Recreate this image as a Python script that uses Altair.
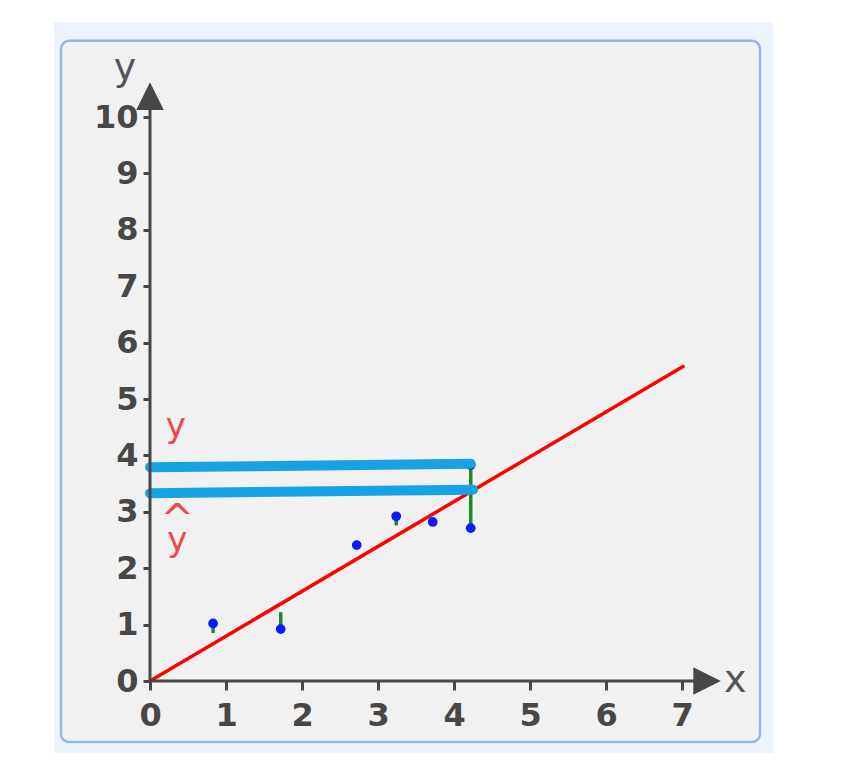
import altair as alt
import pandas as pd

# ---- data ----
point_x = [0.83, 1.72, 2.72, 3.24, 3.72, 4.22, 4.22]
point_y = [1.02, 0.92, 2.41, 2.92, 2.82, 2.71, 3.83]

res_x = [0.83, 1.72, 3.24, 4.22]
res_y1 = [1.02, 0.92, 2.92, 2.71]
res_y2 = [0.85, 1.22, 2.76, 3.83]

fit_x = [0.0, 7.03]
fit_y = [0.0, 5.59]

level_x1 = [0.0, 0.0]
level_x2 = [4.22, 4.25]
level_y1 = [3.79, 3.33]
level_y2 = [3.85, 3.39]

x_ticks = [0, 1, 2, 3, 4, 5, 6, 7]
y_ticks = [0, 1, 2, 3, 4, 5, 6, 7, 8, 9, 10]

label_text = ["y", "^", "y"]
label_x = [0.34, 0.36, 0.36]
label_y = [4.50, 2.84, 2.48]
label_size = [34, 40, 34]

axis_title_text = ["y", "x"]
axis_title_x = [-0.33, 7.70]
axis_title_y = [10.85, 0.0]

# frame (data units)
band = pd.DataFrame({"x": [-1.263], "x2": [8.197], "y": [11.684], "y2": [-1.277]})
box = pd.DataFrame({"x": [-1.171], "x2": [8.026], "y": [11.35], "y2": [-1.08]})

AX = "#474747"
xs = alt.Scale(domain=[0, 7], nice=False, zero=False)
ys = alt.Scale(domain=[0, 10], nice=False, zero=False)

X = lambda f: alt.X(f, type="quantitative", scale=xs,
                    axis=alt.Axis(values=x_ticks, title=None, grid=False, domain=False,
                                  tickSize=9, tickWidth=3, tickColor=AX,
                                  labelFont="DejaVu Sans", labelFontWeight="bold",
                                  labelFontSize=32, labelColor=AX, labelPadding=10,
                                  labelFlush=False, zindex=1))
Y = lambda f: alt.Y(f, type="quantitative", scale=ys,
                    axis=alt.Axis(values=y_ticks, title=None, grid=False, domain=False,
                                  tickSize=7, tickWidth=3, tickColor=AX,
                                  labelFont="DejaVu Sans", labelFontWeight="bold",
                                  labelFontSize=32, labelColor=AX, labelPadding=5,
                                  labelFlush=False, zindex=1))

band_l = alt.Chart(band).mark_rect(fill="#eef4fd").encode(
    x=X("x"), x2="x2", y=Y("y"), y2="y2")
box_l = alt.Chart(box).mark_rect(fill="#f1f1f1", stroke="#91b6ee", strokeWidth=2.5,
                                  cornerRadius=8).encode(x=X("x"), x2="x2", y=Y("y"), y2="y2")

yaxis_line = alt.Chart(pd.DataFrame({"x": [0], "y": [0], "y2": [10.2]})).mark_rule(
    color=AX, strokeWidth=3).encode(x=X("x"), y=Y("y"), y2="y2")
xaxis_line = alt.Chart(pd.DataFrame({"x": [0], "x2": [7.2], "y": [0]})).mark_rule(
    color=AX, strokeWidth=3).encode(x=X("x"), x2="x2", y=Y("y"))

arrow_up = alt.Chart(pd.DataFrame({"x": [0], "y": [10.37]})).mark_point(
    shape="M0,-1L-1,1L1,1Z", filled=True, opacity=1, color=AX, size=760, strokeWidth=0
).encode(x=X("x"), y=Y("y"))
arrow_right = alt.Chart(pd.DataFrame({"x": [7.33], "y": [0]})).mark_point(
    shape="M1,0L-1,-1L-1,1Z", filled=True, opacity=1, color=AX, size=760, strokeWidth=0
).encode(x=X("x"), y=Y("y"))

fit = alt.Chart(pd.DataFrame({"x": fit_x, "y": fit_y})).mark_line(
    color="#ff0000", strokeWidth=3.5).encode(x=X("x"), y=Y("y"))

res = alt.Chart(pd.DataFrame({"x": res_x, "y": res_y1, "y2": res_y2})).mark_rule(
    color="#1f8a1f", strokeWidth=3.5).encode(x=X("x"), y=Y("y"), y2="y2")

pts = alt.Chart(pd.DataFrame({"x": point_x, "y": point_y})).mark_circle(
    color="#0a1cff", size=95, opacity=1).encode(x=X("x"), y=Y("y"))

levels = alt.Chart(pd.DataFrame({"x": level_x1, "x2": level_x2,
                                 "y": level_y1, "y2": level_y2})).mark_rule(
    color="#17a2e6", strokeWidth=10, strokeCap="round").encode(
    x=X("x"), x2="x2", y=Y("y"), y2="y2")

labels = alt.Chart(pd.DataFrame({"x": label_x, "y": label_y, "t": label_text,
                                 "s": label_size})).mark_text(
    color="#f04848", font="DejaVu Sans", align="center", baseline="middle"
).encode(x=X("x"), y=Y("y"), text="t:N", size=alt.Size("s:Q", scale=None, legend=None))

titles = alt.Chart(pd.DataFrame({"x": axis_title_x, "y": axis_title_y,
                                 "t": axis_title_text})).mark_text(
    color="#555555", font="DejaVu Sans", fontSize=38, align="center", baseline="middle"
).encode(x=X("x"), y=Y("y"), text="t:N")

chart = alt.layer(band_l, box_l, fit, res, pts, levels, yaxis_line, xaxis_line,
                  arrow_up, arrow_right, labels, titles).properties(
    width=532, height=564,
    autosize=alt.AutoSizeParams(type="none"),
    padding={"left": 142, "top": 109, "right": 172, "bottom": 87},
    background="white",
).configure_view(stroke=None)

chart.save("out.html", embed_options={"renderer": "svg", "actions": False})
